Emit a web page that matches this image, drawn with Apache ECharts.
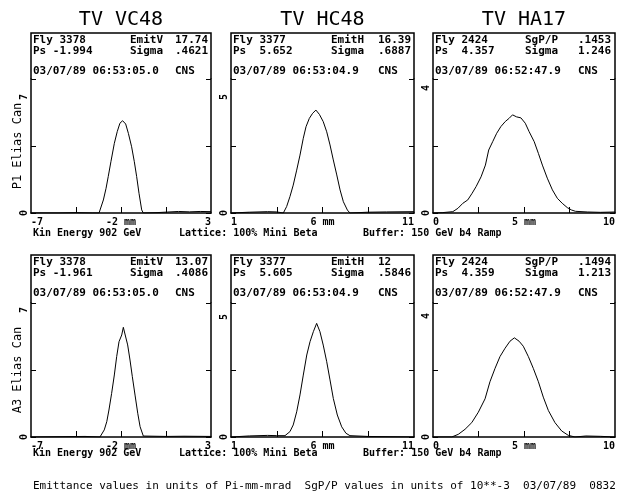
<!DOCTYPE html>
<html><head><meta charset="utf-8">
<script src="https://cdn.jsdelivr.net/npm/echarts@6/dist/echarts.min.js"></script>
<style>html,body{margin:0;padding:0;background:#fff}#c{width:619px;height:496px}</style>
</head><body><div id="c"></div>
<script>
// ---------- data ----------
const p1X = [-7, -5.5, -4.5, -3.6, -3.22, -2.98, -2.83, -2.71, -2.56, -2.37, -2.21, -2.06, -1.91, -1.74, -1.59, -1.41, -1.26, -1.13, -1.00, -0.85, -0.76, 0, 0.6, 1.2, 1.8, 2.4, 3];
const p1Y = [0, 0, 0.02, 0, 0, 0.68, 1.29, 1.90, 2.68, 3.64, 4.25, 4.69, 4.82, 4.65, 4.16, 3.46, 2.68, 1.90, 1.03, 0.16, 0, 0.02, 0.05, 0.08, 0.06, 0.08, 0.07];
const p2X = [1, 2, 3, 3.5, 3.86, 4.04, 4.22, 4.40, 4.59, 4.77, 4.95, 5.10, 5.28, 5.46, 5.64, 5.83, 6.04, 6.23, 6.41, 6.59, 6.78, 6.96, 7.14, 7.36, 7.50, 8.5, 9.5, 11];
const p2Y = [0, 0.03, 0.05, 0.04, 0, 0.24, 0.61, 1.04, 1.60, 2.16, 2.79, 3.22, 3.53, 3.72, 3.84, 3.68, 3.41, 3.03, 2.54, 1.98, 1.42, 0.86, 0.42, 0.11, 0, 0.03, 0.04, 0.05];
const p3X = [0, 0.5, 1.09, 1.37, 1.64, 1.91, 2.15, 2.37, 2.64, 2.88, 3.06, 3.28, 3.50, 3.73, 3.97, 4.19, 4.37, 4.59, 4.83, 5.07, 5.28, 5.56, 5.79, 6.01, 6.28, 6.56, 6.83, 7.10, 7.38, 7.61, 7.83, 8.5, 9.2, 10];
const p3Y = [0, 0.01, 0.04, 0.14, 0.29, 0.39, 0.59, 0.79, 1.08, 1.43, 1.88, 2.13, 2.38, 2.58, 2.73, 2.83, 2.93, 2.87, 2.84, 2.68, 2.43, 2.13, 1.78, 1.43, 1.04, 0.69, 0.44, 0.29, 0.16, 0.09, 0.05, 0.03, 0.02, 0.03];
const p4X = [-7, -5, -4, -3.17, -2.93, -2.79, -2.67, -2.52, -2.37, -2.24, -2.11, -1.96, -1.87, -1.78, -1.63, -1.50, -1.37, -1.22, -1.07, -0.94, -0.76, -0.67, 0.5, 1.5, 3];
const p4Y = [0, 0.02, 0.03, 0, 0.37, 0.80, 1.41, 2.28, 3.24, 4.20, 4.98, 5.33, 5.73, 5.38, 4.81, 4.02, 3.15, 2.19, 1.24, 0.54, 0.05, 0, 0.03, 0.04, 0.03];
const p5X = [1, 2, 3, 3.5, 3.95, 4.22, 4.40, 4.59, 4.77, 4.95, 5.14, 5.32, 5.50, 5.68, 5.86, 6.04, 6.23, 6.41, 6.59, 6.81, 7.05, 7.28, 7.50, 8.5, 11];
const p5Y = [0, 0.04, 0.06, 0.05, 0.05, 0.20, 0.45, 0.94, 1.57, 2.31, 3.06, 3.56, 3.93, 4.24, 3.93, 3.43, 2.81, 2.13, 1.44, 0.82, 0.38, 0.14, 0.05, 0.02, 0];
const p6X = [0, 0.6, 1.03, 1.39, 1.76, 2.13, 2.49, 2.86, 3.13, 3.41, 3.68, 3.96, 4.23, 4.47, 4.73, 4.96, 5.24, 5.51, 5.79, 6.06, 6.34, 6.70, 7.07, 7.43, 7.80, 8.4, 9.2, 10];
const p6Y = [0, 0, 0, 0.08, 0.23, 0.43, 0.74, 1.14, 1.65, 2.05, 2.40, 2.65, 2.86, 2.96, 2.86, 2.71, 2.40, 2.05, 1.65, 1.19, 0.79, 0.43, 0.18, 0.05, 0, 0.03, 0.02, 0];

const xMin = [-7, 1, 0];
const xMax = [3, 11, 10];
const xTickVals = [[-4.5, -2, 0.5], [3.5, 6, 8.5], [2.5, 5, 7.5]];
const xLabelVals = [[-7, -2, 3], [1, 6, 11], [0, 5, 10]];
const yMax = [7, 5, 4];
const yNames = ['P1 Elias Can', 'A3 Elias Can'];
const titles = ['TV VC48', 'TV HC48', 'TV HA17'];

const hdrFly = ['Fly 3378', 'Fly 3377', 'Fly 2424', 'Fly 3378', 'Fly 3377', 'Fly 2424'];
const hdrPs = ['Ps -1.994', 'Ps  5.652', 'Ps  4.357', 'Ps -1.961', 'Ps  5.605', 'Ps  4.359'];
const hdrKey = ['EmitV', 'EmitH', 'SgP/P', 'EmitV', 'EmitH', 'SgP/P'];
const hdrKeyVal = ['17.74', '16.39', '.1453', '13.07', '12', '.1494'];
const hdrSigma = ['.4621', '.6887', '1.246', '.4086', '.5846', '1.213'];
const hdrDate = ['03/07/89 06:53:05.0', '03/07/89 06:53:04.9', '03/07/89 06:52:47.9',
                 '03/07/89 06:53:05.0', '03/07/89 06:53:04.9', '03/07/89 06:52:47.9'];
const infoTexts = ['Kin Energy 902 GeV', 'Lattice: 100% Mini Beta', 'Buffer: 150 GeV b4 Ramp'];
const footer = 'Emittance values in units of Pi-mm-mrad  SgP/P values in units of 10**-3  03/07/89  0832';

// ---------- layout ----------
const colLeft = [31, 231, 433];
const colWidth = [180, 183, 182];
const boxTop = [33, 255];
const plotTop = [79, 303];
const plotH = 134;
const keyOff = [99, 100, 92];
const valOff = [144, 147, 145];
const topLabelShift = [[18, 18, 9], [7, 14, 13]];
const infoX = [33, 179, 363];
const infoY = [233, 453];

const MONO = '"DejaVu Sans Mono", "Liberation Mono", monospace';
const xs = [p1X, p2X, p3X, p4X, p5X, p6X];
const ys = [p1Y, p2Y, p3Y, p4Y, p5Y, p6Y];

const grid = [], xAxis = [], yAxis = [], series = [], graphic = [];
function txt(text, x, y, font, align) {
  graphic.push({type: 'text', x: x, y: y, silent: true,
    style: {text: text, font: font, fill: '#000', textAlign: align || 'left', textVerticalAlign: 'middle'}});
}
for (let r = 0; r < 2; r++) {
  for (let c = 0; c < 3; c++) {
    const k = r * 3 + c;
    const L = colLeft[c], W = colWidth[c], M = yMax[c];
    grid.push({left: L, top: plotTop[r], width: W, height: plotH});
    xAxis.push({
      gridIndex: k, type: 'value', min: xMin[c], max: xMax[c],
      axisLine: {show: true, onZero: false, lineStyle: {color: '#000', width: 1.5}},
      axisTick: {show: true, inside: true, length: 6, customValues: xTickVals[c], lineStyle: {color: '#000', width: 1}},
      axisLabel: {customValues: xLabelVals[c], color: '#000', fontFamily: MONO, fontSize: 10, fontWeight: 'bold', margin: 4,
        alignMinLabel: 'left', alignMaxLabel: 'right',
        formatter: (v) => v === xLabelVals[c][1] ? v + ' mm' : String(v)},
      splitLine: {show: false}
    });
    const shift = topLabelShift[r][c] * 2;
    yAxis.push({
      gridIndex: k, type: 'value', position: 'left', min: 0, max: M,
      name: c === 0 ? yNames[r] : '', nameLocation: 'middle', nameRotate: 90, nameGap: 7, nameMoveOverlap: false,
      nameTextStyle: {color: '#000', fontFamily: MONO, fontSize: 12},
      axisLine: {show: true, onZero: false, lineStyle: {color: '#000', width: 1.5}},
      axisTick: {show: true, inside: true, length: 5, customValues: [0, M / 2, M], lineStyle: {color: '#000'}},
      axisLabel: {customValues: [0, M], rotate: 90, margin: 2, color: '#000', fontFamily: MONO, fontSize: 10, fontWeight: 'bold',
        formatter: (v) => v === 0 ? '{z|0}' : '{t|' + v + '}',
        rich: {z: {fontFamily: MONO, fontSize: 10, fontWeight: 'bold', color: '#000'},
               t: {fontFamily: MONO, fontSize: 10, fontWeight: 'bold', color: '#000', padding: [0, shift, 0, 0]}}},
      splitLine: {show: false}
    });
    yAxis.push({
      gridIndex: k, type: 'value', position: 'right', min: 0, max: M,
      axisLine: {show: true, onZero: false, lineStyle: {color: '#000', width: 1.5}},
      axisTick: {show: true, inside: true, length: 5, customValues: [0, M / 2, M], lineStyle: {color: '#000'}},
      axisLabel: {show: false}, splitLine: {show: false}
    });
    series.push({
      type: 'line', xAxisIndex: k, yAxisIndex: 2 * k, symbol: 'none', animation: false,
      lineStyle: {color: '#000', width: 1},
      data: xs[k].map((x, i) => [x, ys[k][i]])
    });
    // header box (top part of the frame)
    graphic.push({type: 'polyline', silent: true,
      shape: {points: [[L, plotTop[r]], [L, boxTop[r]], [L + W, boxTop[r]], [L + W, plotTop[r]]]},
      style: {stroke: '#000', lineWidth: 1.5, fill: 'none'}});
    const HB = 'bold 11px ' + MONO;
    const T = boxTop[r];
    txt(hdrFly[k], L + 2, T + 7, HB);
    txt(hdrKey[k], L + keyOff[c], T + 7, HB);
    txt(hdrKeyVal[k], L + valOff[c], T + 7, HB);
    txt(hdrPs[k], L + 2, T + 18, HB);
    txt('Sigma', L + keyOff[c], T + 18, HB);
    txt(hdrSigma[k], L + valOff[c], T + 18, HB);
    txt(hdrDate[k], L + 2, T + 38, HB);
    txt('CNS', L + valOff[c], T + 38, HB);
    if (r === 0) txt(titles[c], L + W / 2, 20, '20px ' + MONO, 'center');
  }
  for (let i = 0; i < 3; i++) txt(infoTexts[i], infoX[i], infoY[r], 'bold 10px ' + MONO);
}
txt(footer, 33, 486, '11px ' + MONO);

const chart = echarts.init(document.getElementById('c'), null, {renderer: 'canvas'});
chart.setOption({animation: false, backgroundColor: '#fff', grid, xAxis, yAxis, series, graphic});
</script></body></html>
